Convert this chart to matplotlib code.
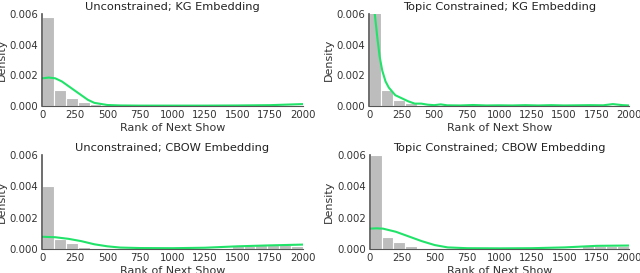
import numpy as np
import matplotlib
matplotlib.use("Agg")
import matplotlib.pyplot as plt

# Histogram bins (22 equal bins over 0..2000)
bin_edges = np.linspace(0, 2000, 23)

titles = [
    "Unconstrained; KG Embedding",
    "Topic Constrained; KG Embedding",
    "Unconstrained; CBOW Embedding",
    "Topic Constrained; CBOW Embedding",
]

# bar heights per bin
hist_kg_uncon = [0.0058, 0.00105, 0.0005, 0.00025, 0.0001, 0.00005, 0.00003, 0.00002,
                 0.00002, 0.00002, 0.00002, 0.00002, 0.00002, 0.00002, 0.00002, 0.00002,
                 0.00003, 0.00003, 0.00003, 0.00004, 0.00005, 0.00006]
hist_kg_topic = [0.0075, 0.00105, 0.0004, 0.0002, 0.00006, 0.00004, 0.00003, 0.00002,
                 0.00002, 0.00002, 0.00002, 0.00002, 0.00002, 0.00002, 0.00002, 0.00002,
                 0.00002, 0.00002, 0.00002, 0.00003, 0.00003, 0.00002]
hist_cbow_uncon = [0.0040, 0.00062, 0.0004, 0.00015, 0.0, 0.0, 0.0, 0.0,
                   0.0, 0.0, 0.0, 0.0, 0.0, 0.0, 0.0, 0.0,
                   0.0002, 0.00022, 0.00025, 0.00025, 0.00025, 0.00022]
hist_cbow_topic = [0.0060, 0.00075, 0.00042, 0.0002, 0.0, 0.0, 0.0, 0.0,
                   0.0, 0.0, 0.0, 0.0, 0.0, 0.0, 0.0, 0.0,
                   0.0, 0.0, 0.0002, 0.00022, 0.00022, 0.00022]

# density curves
kde_x_kg_uncon = [0, 50, 100, 150, 200, 250, 300, 350, 400, 500, 600, 750, 1000, 1250, 1500, 1750, 2000]
kde_y_kg_uncon = [0.0018, 0.00185, 0.0018, 0.0016, 0.0013, 0.001, 0.0007, 0.0004, 0.0002,
                  0.00006, 0.00003, 0.00002, 0.00002, 0.00002, 0.00003, 0.00005, 0.00012]

kde_x_kg_topic = [20, 40, 60, 80, 100, 125, 150, 200, 250, 300, 350, 400, 450, 500, 550, 600,
                  700, 800, 900, 1000, 1100, 1200, 1300, 1400, 1500, 1600, 1700, 1800, 1875, 1950, 2000]
kde_y_kg_topic = [0.0075, 0.0062, 0.0046, 0.0032, 0.0023, 0.0016, 0.0012, 0.0007, 0.0005, 0.0003,
                  0.00015, 0.00015, 0.00008, 0.00005, 0.0001, 0.00004, 0.00003, 0.00006, 0.00003,
                  0.00004, 0.00003, 0.00005, 0.00003, 0.00005, 0.00003, 0.00004, 0.00005, 0.00004,
                  0.00012, 0.00005, 0.00003]

kde_x_cbow_uncon = [0, 100, 200, 300, 400, 500, 600, 750, 1000, 1250, 1500, 1750, 2000]
kde_y_cbow_uncon = [0.00078, 0.00075, 0.00065, 0.0005, 0.0003, 0.00017, 0.00009, 0.00006,
                    0.00005, 0.00008, 0.00017, 0.00023, 0.00028]

kde_x_cbow_topic = [0, 50, 100, 200, 300, 400, 500, 600, 750, 1000, 1250, 1500, 1750, 2000]
kde_y_cbow_topic = [0.0013, 0.00132, 0.0013, 0.0011, 0.0008, 0.0005, 0.00025, 0.0001, 0.00005,
                    0.00004, 0.00005, 0.0001, 0.0002, 0.00022]

hists = [hist_kg_uncon, hist_kg_topic, hist_cbow_uncon, hist_cbow_topic]
kdes = [(kde_x_kg_uncon, kde_y_kg_uncon), (kde_x_kg_topic, kde_y_kg_topic),
        (kde_x_cbow_uncon, kde_y_cbow_uncon), (kde_x_cbow_topic, kde_y_cbow_topic)]

xticks = [0, 250, 500, 750, 1000, 1250, 1500, 1750, 2000]
yticks = [0.0, 0.002, 0.004, 0.006]

# axes rectangles [left, bottom, width, height]
rects = [
    [0.066, 0.612, 0.407, 0.337],
    [0.577, 0.612, 0.406, 0.337],
    [0.066, 0.088, 0.407, 0.344],
    [0.578, 0.088, 0.405, 0.344],
]

fig = plt.figure(figsize=(6.4, 2.73), dpi=100)
for i in range(4):
    ax = fig.add_axes(rects[i])
    widths = np.diff(bin_edges)
    ax.bar(bin_edges[:-1], hists[i], width=widths, align='edge',
           color='#bdbdbd', edgecolor='white', linewidth=0.8)
    ax.plot(kdes[i][0], kdes[i][1], color='#22e36a', linewidth=1.5)
    ax.set_xlim(0, 2000)
    ax.set_ylim(0, 0.006)
    ax.set_xticks(xticks)
    ax.set_yticks(yticks)
    ax.set_yticklabels(['0.000', '0.002', '0.004', '0.006'])
    ax.tick_params(length=0, labelsize=7.3, colors='#333333', pad=3)
    ax.set_title(titles[i], fontsize=8.2, color='#222222', pad=3)
    ax.set_xlabel('Rank of Next Show', fontsize=8, color='#333333', labelpad=2)
    ax.set_ylabel('Density', fontsize=8, color='#333333', labelpad=2)
    for s in ['top', 'right']:
        ax.spines[s].set_visible(False)
    ax.spines['left'].set_color('#555555')
    ax.spines['bottom'].set_color('#555555')
    ax.spines['left'].set_linewidth(1.2)

fig.savefig('out.png', dpi=100)
